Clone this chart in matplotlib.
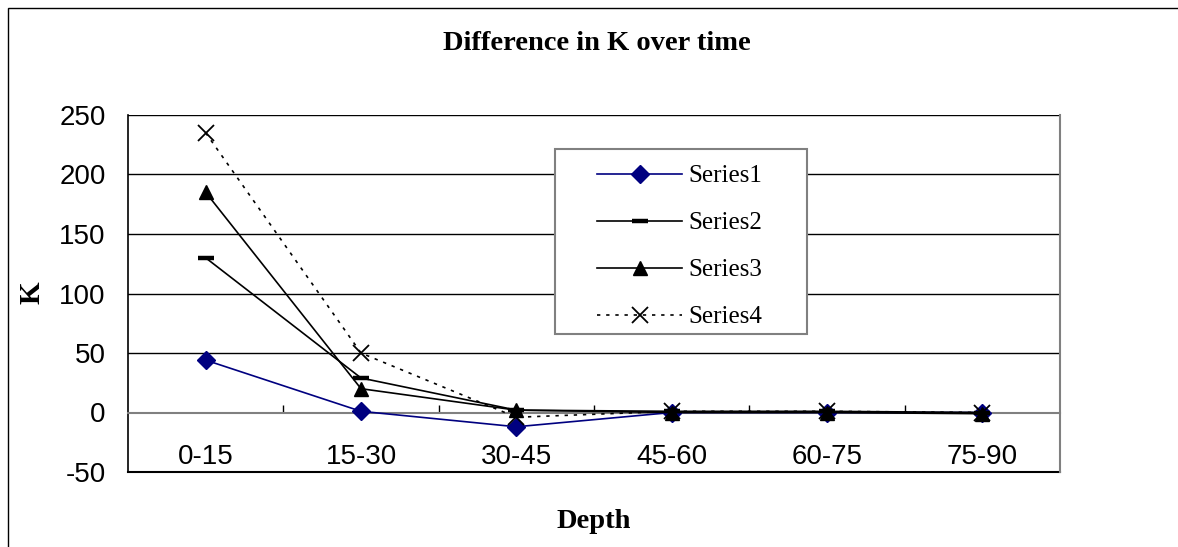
import matplotlib
matplotlib.use("Agg")
import matplotlib.pyplot as plt
from matplotlib.patches import Rectangle

categories = ["0-15", "15-30", "30-45", "45-60", "60-75", "75-90"]
series1 = [44, 1, -12, 0, 0, 0]
series2 = [130, 29, 2, 1, 1, 0]
series3 = [185, 20, 2, 0, 0, -1]
series4 = [235, 50, -4, 1, 1, 0]
y_ticks = [-50, 0, 50, 100, 150, 200, 250]

W, H = 1178, 547
fig = plt.figure(figsize=(W / 100, H / 100), dpi=100)
fig.patch.set_facecolor("white")

# outer chart border (left and top visible)
fig.add_artist(Rectangle((8 / W, -0.2), 1.2, 1 - 8 / H + 0.2, transform=fig.transFigure,
                         fill=False, edgecolor="black", linewidth=1.0))

ax = fig.add_axes([128 / W, 1 - 472 / H, (1060 - 128) / W, (472 - 115) / H])
x = list(range(len(categories)))

serif = ["Liberation Serif", "DejaVu Serif"]
sans = ["Liberation Sans", "DejaVu Sans"]

ax.plot(x, series1, color="#000080", lw=1.2, marker="D", ms=9, mfc="#000080", mec="#000080",
        label="Series1", zorder=3)
ax.plot(x, series2, color="black", lw=1.2, marker="_", ms=12, mew=3.2,
        label="Series2", zorder=3)
ax.plot(x, series3, color="black", lw=1.2, marker="^", ms=10.5, mfc="black", mec="black",
        label="Series3", zorder=3)
ax.plot(x, series4, color="black", lw=1.2, linestyle=(0, (2, 3.5)), marker="x", ms=11, mew=1.3,
        label="Series4", zorder=3)

ax.set_xlim(-0.5, len(categories) - 0.5)
ax.set_ylim(-50, 250)

# gridlines
for yv in y_ticks:
    if yv > 0:
        ax.axhline(yv, color="black", lw=1.0, zorder=1)
ax.axhline(-50, color="black", lw=1.5, zorder=1, clip_on=False)

# spines
ax.spines["top"].set_visible(False)
ax.spines["left"].set_color("black")
ax.spines["left"].set_linewidth(1.2)
ax.spines["right"].set_color("#808080")
ax.spines["right"].set_linewidth(1.5)
ax.spines["bottom"].set_position(("data", 0))
ax.spines["bottom"].set_color("#808080")
ax.spines["bottom"].set_linewidth(1.5)

ax.set_yticks(y_ticks)
ax.set_yticklabels([str(v) for v in y_ticks], fontfamily=sans, fontsize=20)
ax.tick_params(axis="y", length=0, pad=16)

ax.set_xticks([i + 0.5 for i in x[:-1]])
ax.set_xticklabels([])
ax.set_xticks(x, minor=True)
ax.set_xticklabels(categories, minor=True, fontfamily=sans, fontsize=20)
ax.tick_params(axis="x", which="major", direction="in", length=6, width=1, color="black")
ax.tick_params(axis="x", which="minor", length=0, pad=23)

fig.text(597 / W, 1 - 44 / H, "Difference in K over time", ha="center", va="center",
         fontfamily=serif, fontweight="bold", fontsize=20.5)
fig.text(32 / W, 1 - 293 / H, "K", ha="center", va="center", rotation=90,
         fontfamily=serif, fontweight="bold", fontsize=21)
fig.text(594 / W, 1 - 522 / H, "Depth", ha="center", va="center",
         fontfamily=serif, fontweight="bold", fontsize=20.5)

# legend box
ax.add_patch(Rectangle((555 / W, 1 - 334 / H), (807 - 555) / W, (334 - 149) / H,
                       transform=fig.transFigure, facecolor="white", edgecolor="#808080",
                       linewidth=1.5, zorder=4, clip_on=False))
leg = ax.legend(loc="upper left", bbox_to_anchor=(597 / W, 1 - 165 / H),
                bbox_transform=fig.transFigure, prop={"family": serif, "size": 18},
                frameon=False, handlelength=3.4, handletextpad=0.25, labelspacing=0.98,
                borderpad=0, borderaxespad=0)
leg.set_zorder(5)

fig.savefig("out.png", dpi=100)
